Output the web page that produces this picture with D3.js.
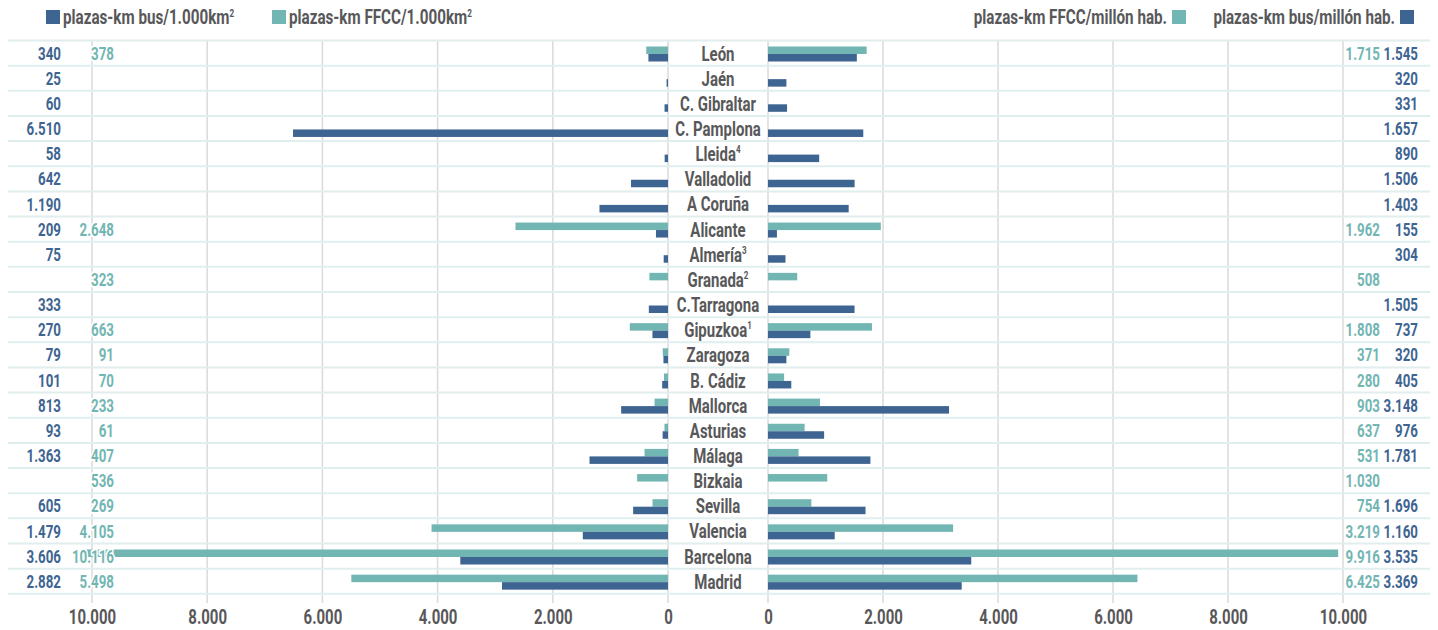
<!DOCTYPE html>
<html>
<head>
<meta charset="utf-8">
<script src="https://cdn.jsdelivr.net/npm/d3@7"></script>
<style>
  html, body { margin: 0; padding: 0; background: #fff; }
  svg { display: block; }
  text { font-family: Roboto, "Noto Sans", sans-serif; font-weight: bold; }
  .val { paint-order: stroke; stroke: #fff; stroke-width: 4px; stroke-linejoin: round; }
</style>
</head>
<body>
<svg id="chart" width="1438" height="630"></svg>
<script>
// Areas / metropolitan regions, top to bottom
const categories = ["León", "Jaén", "C. Gibraltar", "C. Pamplona", "Lleida", "Valladolid", "A Coruña",
  "Alicante", "Almería", "Granada", "C.Tarragona", "Gipuzkoa", "Zaragoza", "B. Cádiz", "Mallorca",
  "Asturias", "Málaga", "Bizkaia", "Sevilla", "Valencia", "Barcelona", "Madrid"];
// footnote marks shown as superscripts next to some names
const notes = ["", "", "", "", "4", "", "", "", "3", "2", "", "1", "", "", "", "", "", "", "", "", "", ""];

// plazas-km per 1.000 km² (left panel)
const busPerArea = [340, 25, 60, 6510, 58, 642, 1190, 209, 75, null, 333, 270, 79, 101, 813, 93, 1363, null, 605, 1479, 3606, 2882];
const railPerArea = [378, null, null, null, null, null, null, 2648, null, 323, null, 663, 91, 70, 233, 61, 407, 536, 269, 4105, 10116, 5498];

// plazas-km per million inhabitants (right panel)
const railPerPop = [1715, null, null, null, null, null, null, 1962, null, 508, null, 1808, 371, 280, 903, 637, 531, 1030, 754, 3219, 9916, 6425];
const busPerPop = [1545, 320, 331, 1657, 890, 1506, 1403, 155, 304, null, 1505, 737, 320, 405, 3148, 976, 1781, null, 1696, 1160, 3535, 3369];

const tickValues = [0, 2000, 4000, 6000, 8000, 10000];

const BUS = "#3e6491";
const RAIL = "#72b6b3";
const GREY = "#58585a";

const locale = d3.formatLocale({ decimal: ",", thousands: ".", grouping: [3], currency: ["", " €"] });
const fmt = locale.format(",d");

const svg = d3.select("#chart");

// condensed look: squeeze glyphs horizontally around the anchor point
function placeText(sel, x, y, sx) {
  return sel.attr("transform", (d, i) => {
    const xx = typeof x === "function" ? x(d, i) : x;
    const yy = typeof y === "function" ? y(d, i) : y;
    return `translate(${xx},${yy}) scale(${sx},1)`;
  });
}

const plotTop = 40.5, plotBottom = 593.8;
const y = d3.scaleBand().domain(categories).range([plotTop, plotBottom]).padding(0);
const sub = d3.scaleBand().domain(["rail", "bus"]).range([6, 21]).padding(0);

const xL = d3.scaleLinear().domain([0, 10000]).range([668, 92]);
const xR = d3.scaleLinear().domain([0, 10000]).range([768, 1343]);

// vertical grid lines
const gridBottom = 603;
[xL, xR].forEach(sc => {
  svg.append("g").selectAll("line").data(tickValues).join("line")
    .attr("x1", d => sc(d)).attr("x2", d => sc(d))
    .attr("y1", plotTop).attr("y2", gridBottom)
    .attr("stroke", "#dcdcdc").attr("stroke-width", 1.6);
});

// row separators
const rowEdges = categories.map(c => y(c)).concat([plotBottom]);
svg.append("g").selectAll("line").data(rowEdges).join("line")
  .attr("x1", 8).attr("x2", 1430)
  .attr("y1", d => d).attr("y2", d => d)
  .attr("stroke", "#e1eeee").attr("stroke-width", 2);

// bars
function drawBars(values, sc, key, color) {
  const rows = categories.map((c, i) => ({ c, v: values[i] })).filter(d => d.v != null);
  svg.append("g").selectAll("rect").data(rows).join("rect")
    .attr("x", d => Math.min(sc(0), sc(d.v)))
    .attr("width", d => Math.abs(sc(d.v) - sc(0)))
    .attr("y", d => y(d.c) + sub(key))
    .attr("height", sub.bandwidth())
    .attr("fill", color);
}
drawBars(railPerArea, xL, "rail", RAIL);
drawBars(busPerArea, xL, "bus", BUS);
drawBars(railPerPop, xR, "rail", RAIL);
drawBars(busPerPop, xR, "bus", BUS);

// value labels (white halo keeps them readable over long bars)
function drawLabels(values, xpos, color) {
  const rows = categories.map((c, i) => ({ c, v: values[i] })).filter(d => d.v != null);
  const t = svg.append("g").selectAll("text").data(rows).join("text")
    .attr("class", "val")
    .attr("text-anchor", "end")
    .attr("font-size", 18.5)
    .attr("fill", color)
    .text(d => fmt(d.v));
  placeText(t, xpos, d => y(d.c) + y.bandwidth() / 2 + 6.6, 0.72);
}
drawLabels(busPerArea, 61, BUS);
drawLabels(railPerArea, 114, RAIL);
drawLabels(railPerPop, 1380, RAIL);
drawLabels(busPerPop, 1418, BUS);

// category names in the centre column
const names = svg.append("g").selectAll("text").data(categories).join("text")
  .attr("text-anchor", "middle")
  .attr("font-size", 20.5)
  .attr("fill", GREY);
placeText(names, 718, d => y(d) + y.bandwidth() / 2 + 7.5, 0.73);
names.append("tspan").text(d => d);
names.filter((d, i) => notes[i] !== "")
  .append("tspan")
  .attr("font-size", 11)
  .attr("dy", -8)
  .text(d => notes[categories.indexOf(d)]);

// axes
[xL, xR].forEach(sc => {
  const g = svg.append("g").attr("transform", `translate(0,${gridBottom})`)
    .call(d3.axisBottom(sc).tickValues(tickValues).tickSize(0).tickPadding(7).tickFormat(fmt));
  g.select(".domain").remove();
  g.attr("font-family", null).attr("font-size", null);
  g.selectAll("text")
    .attr("font-size", 20)
    .attr("fill", GREY)
    .attr("transform", "scale(0.75,1)");
});

// legend
function legendItem(xSquare, xText, anchor, color, label) {
  svg.append("rect").attr("x", xSquare).attr("y", 10).attr("width", 14).attr("height", 14).attr("fill", color);
  const t = svg.append("text")
    .attr("text-anchor", anchor).attr("font-size", 19.5).attr("fill", GREY);
  placeText(t, xText, 24, 0.78);
  label.forEach(part => {
    const s = t.append("tspan").text(part.t);
    if (part.sup) s.attr("font-size", 10.5).attr("dy", -7.5);
  });
}
legendItem(46, 63, "start", BUS, [{ t: "plazas-km bus/1.000km" }, { t: "2", sup: true }]);
legendItem(272, 289, "start", RAIL, [{ t: "plazas-km FFCC/1.000km" }, { t: "2", sup: true }]);
legendItem(1172, 1167, "end", RAIL, [{ t: "plazas-km FFCC/millón hab." }]);
legendItem(1400, 1395, "end", BUS, [{ t: "plazas-km bus/millón hab." }]);
</script>
</body>
</html>
